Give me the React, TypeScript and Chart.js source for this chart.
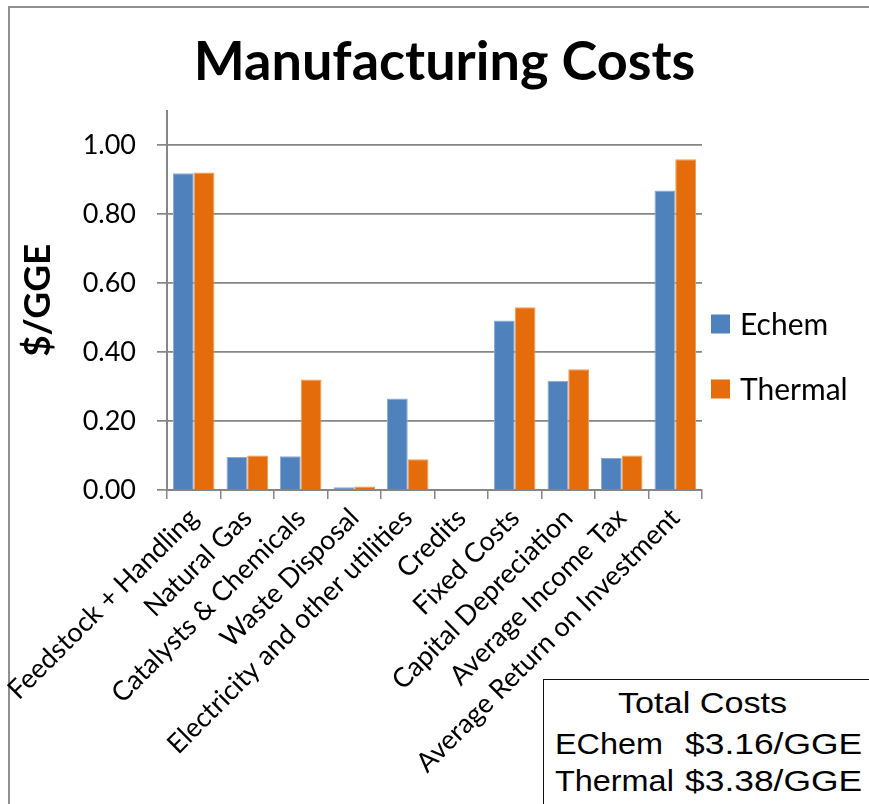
import React, { useEffect, useRef } from 'react';
import { Chart, registerables } from 'chart.js';

Chart.register(...registerables);

// Cost categories along the x axis
const categories = [
  'Feedstock + Handling',
  'Natural Gas',
  'Catalysts & Chemicals',
  'Waste Disposal',
  'Electricity and other utilities',
  'Credits',
  'Fixed Costs',
  'Capital Depreciation',
  'Average Income Tax',
  'Average Return on Investment',
];

// $/GGE per category
const echemValues = [0.918, 0.096, 0.098, 0.008, 0.265, 0, 0.491, 0.317, 0.093, 0.868];
const thermalValues = [0.92, 0.1, 0.32, 0.01, 0.089, 0, 0.53, 0.35, 0.1, 0.959];

const seriesNames = ['Echem', 'Thermal'];
const seriesColors = ['#4F81BD', '#E46C0A'];
const seriesEdges = ['#8cabd4', '#f09a55'];

const yTickValues = [0, 0.2, 0.4, 0.6, 0.8, 1.0];
const yAxisMax = 1.1;

const totalsTitle = 'Total Costs';
const totalsLabels = ['EChem', 'Thermal'];
const totalsValues = ['$3.16/GGE', '$3.38/GGE'];

const GRID = '#868686';
const CALIBRI_LIKE = 'Lato, "Open Sans", sans-serif';

// Legend drawn to the right of the plot area, two stacked swatches
const sideLegend = {
  id: 'sideLegend',
  afterDraw(chart: any) {
    const { ctx, chartArea } = chart;
    const x0 = chartArea.right + 9;
    const rows = [324, 389];
    ctx.save();
    ctx.font = `30px ${CALIBRI_LIKE}`;
    ctx.textBaseline = 'middle';
    ctx.textAlign = 'left';
    chart.data.datasets.forEach((ds: any, i: number) => {
      const cy = rows[i];
      ctx.fillStyle = ds.backgroundColor;
      ctx.fillRect(x0, cy - 9.5, 19, 19);
      ctx.fillStyle = '#000';
      ctx.fillText(ds.label, x0 + 29, cy + 1);
    });
    ctx.restore();
  },
};

export default function App() {
  const canvasRef = useRef<HTMLCanvasElement | null>(null);

  useEffect(() => {
    const canvas = canvasRef.current;
    if (!canvas) return;
    const chart = new Chart(canvas, {
      type: 'bar',
      data: {
        labels: categories,
        datasets: [
          {
            label: seriesNames[0],
            data: echemValues,
            backgroundColor: seriesColors[0],
            borderColor: seriesEdges[0],
            borderWidth: 1,
            yAxisID: 'y',
          },
          {
            label: seriesNames[1],
            data: thermalValues,
            backgroundColor: seriesColors[1],
            borderColor: seriesEdges[1],
            borderWidth: 1,
            yAxisID: 'y',
          },
        ],
      },
      options: {
        responsive: false,
        animation: false,
        devicePixelRatio: 1,
        layout: { padding: { left: 20, right: 0, top: 0, bottom: 0 } },
        datasets: { bar: { categoryPercentage: 0.775, barPercentage: 1 } },
        plugins: {
          legend: { display: false },
          tooltip: { enabled: false },
          title: {
            display: true,
            text: 'Manufacturing Costs',
            color: '#000',
            font: { family: CALIBRI_LIKE, weight: 'bold', size: 54, lineHeight: 1.2 },
            padding: { top: 30, bottom: 15.7 },
          },
        },
        scales: {
          x: {
            type: 'category',
            grid: {
              offset: true,
              drawOnChartArea: false,
              drawTicks: true,
              tickLength: 9,
              color: GRID,
              lineWidth: 1.5,
            },
            border: { display: true, color: GRID, width: 2 },
            ticks: {
              autoSkip: false,
              minRotation: 45,
              maxRotation: 45,
              padding: 3,
              color: '#000',
              font: { family: CALIBRI_LIKE, size: 27 },
            },
            afterFit: (scale: any) => {
              scale.height = 314;
            },
          },
          y: {
            type: 'linear',
            position: 'left',
            min: 0,
            max: yAxisMax,
            afterBuildTicks: (scale: any) => {
              scale.ticks = yTickValues.map((v) => ({ value: v }));
            },
            grid: {
              color: GRID,
              lineWidth: 1.7,
              drawTicks: true,
              tickLength: 10,
            },
            border: { display: true, color: GRID, width: 2 },
            ticks: {
              padding: 21,
              color: '#000',
              font: { family: CALIBRI_LIKE, size: 27 },
              callback: (v: any) => Number(v).toFixed(2),
            },
            title: {
              display: true,
              text: '$/GGE',
              color: '#000',
              font: { family: CALIBRI_LIKE, weight: 'bold', size: 37, lineHeight: 1 },
              padding: { top: 0, bottom: 0 },
            },
            afterFit: (scale: any) => {
              scale.width = 147;
            },
          },
          legendSpace: {
            type: 'linear',
            position: 'right',
            display: true,
            grid: { display: false, drawTicks: false },
            border: { display: false },
            ticks: { display: false },
            afterFit: (scale: any) => {
              scale.width = 167;
            },
          },
        },
      },
      plugins: [sideLegend],
    } as any);
    return () => chart.destroy();
  }, []);

  const boxText = (stretch: number): React.CSSProperties => ({
    position: 'absolute',
    fontFamily: '"Liberation Sans", Arial, sans-serif',
    fontSize: 30,
    lineHeight: '30px',
    color: '#000',
    whiteSpace: 'nowrap',
    transform: `scaleX(${stretch})`,
    transformOrigin: 'left top',
  });

  return (
    <div
      style={{
        position: 'absolute',
        left: 0,
        top: 0,
        width: 869,
        height: 804,
        overflow: 'hidden',
        background: '#fff',
      }}
    >
      <div
        style={{
          position: 'absolute',
          left: 8,
          top: 6,
          width: 1000,
          height: 1000,
          borderLeft: '2px solid #8f8f8f',
          borderTop: '2px solid #8f8f8f',
        }}
      />
      <canvas
        ref={canvasRef}
        width={869}
        height={804}
        style={{ position: 'absolute', left: 0, top: 0, width: 869, height: 804 }}
      />
      <div
        style={{
          position: 'absolute',
          left: 543,
          top: 679,
          width: 400,
          height: 200,
          borderLeft: '1.5px solid #111',
          borderTop: '1.5px solid #111',
          background: '#fff',
        }}
      />
      <span style={{ ...boxText(1.14), left: 618, top: 688 }}>{totalsTitle}</span>
      {totalsLabels.map((lab, i) => (
        <React.Fragment key={lab}>
          <span style={{ ...boxText(1.08), left: 555, top: 729 + i * 37 }}>{lab}</span>
          <span style={{ ...boxText(1.18), left: 685, top: 729 + i * 37 }}>{totalsValues[i]}</span>
        </React.Fragment>
      ))}
    </div>
  );
}
